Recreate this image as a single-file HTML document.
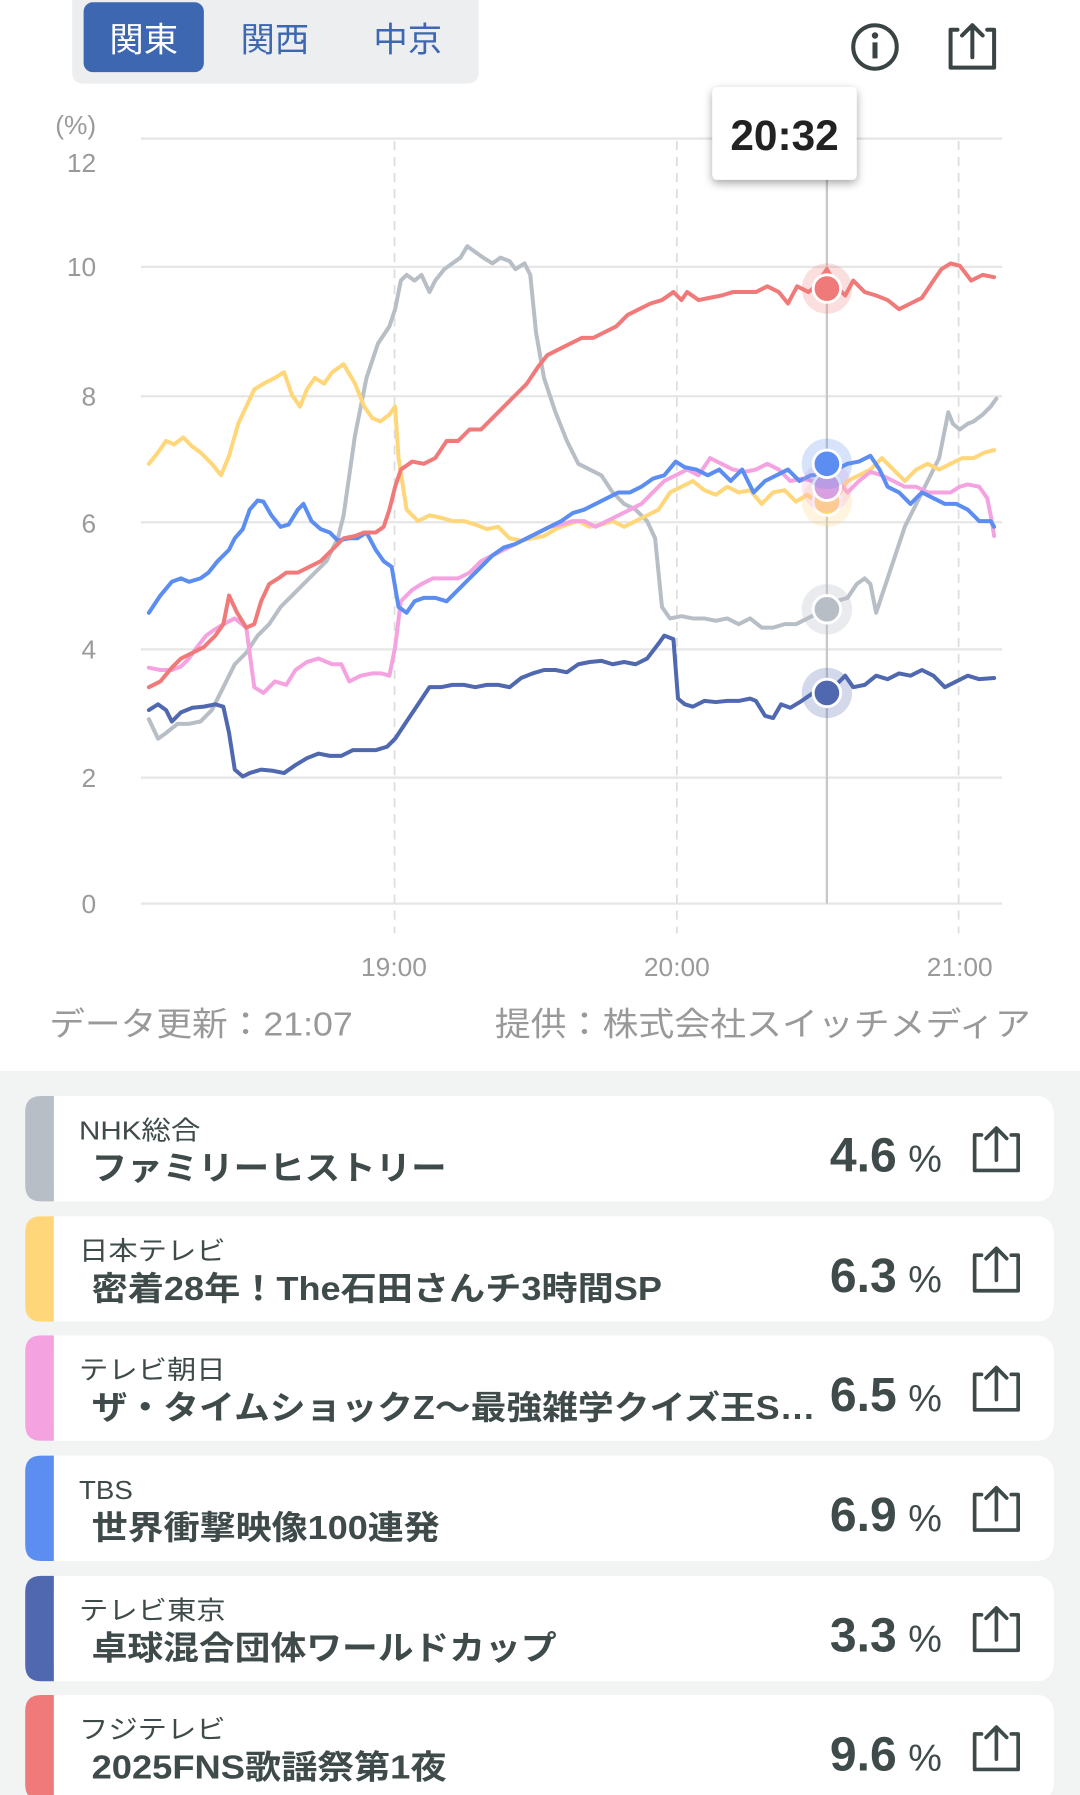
<!DOCTYPE html>
<html><head><meta charset="utf-8"><style>
html,body{margin:0;padding:0;background:#fff;width:1080px;height:1795px;overflow:hidden}
svg{display:block}
text{font-family:"Liberation Sans","Noto Sans CJK JP",sans-serif}
</style></head><body>
<svg width="1080" height="1795" viewBox="0 0 943 1567.3" xmlns="http://www.w3.org/2000/svg">
<defs><filter id="sh" x="-30%" y="-30%" width="160%" height="160%"><feDropShadow dx="0" dy="3" stdDeviation="4" flood-color="#000" flood-opacity="0.35"/></filter></defs>
<path d="M63 0H418V63Q418 73 408 73H73Q63 73 63 63Z" fill="#eceeef"/>
<rect x="73" y="2" width="105" height="61" rx="8" fill="#3d67b1"/>
<text x="125.5" y="45" font-size="30" fill="#fff" text-anchor="middle">関東</text>
<text x="240" y="45" font-size="30" fill="#3d67b1" text-anchor="middle">関西</text>
<text x="356" y="45" font-size="30" fill="#3d67b1" text-anchor="middle">中京</text>
<circle cx="764" cy="41" r="19" fill="none" stroke="#3a4444" stroke-width="3.5"/>
<circle cx="764" cy="31" r="2.8" fill="#3a4444"/>
<rect x="761.8" y="37" width="4.4" height="14" fill="#3a4444"/>
<path d="M836 26H830V59H868V26H862M849 50V22M840 31L849 22L858 31" fill="none" stroke="#3a4444" stroke-width="3.5" stroke-linejoin="round" stroke-linecap="round"/>
<g stroke="#e6e6e6" stroke-width="2">
<line x1="123" y1="121" x2="875" y2="121"/><line x1="123" y1="233" x2="875" y2="233"/><line x1="123" y1="346" x2="875" y2="346"/><line x1="123" y1="456" x2="875" y2="456"/><line x1="123" y1="567" x2="875" y2="567"/><line x1="123" y1="679" x2="875" y2="679"/><line x1="123" y1="789" x2="875" y2="789"/>
</g>
<g stroke="#dddddd" stroke-width="1.5" stroke-dasharray="8,6">
<line x1="344.5" y1="123" x2="344.5" y2="815"/><line x1="591" y1="123" x2="591" y2="815"/><line x1="837" y1="123" x2="837" y2="815"/>
</g>
<g font-size="23" fill="#9a9a9a" text-anchor="end">
<text x="84" y="117">(%)</text>
<text x="84" y="150">12</text><text x="84" y="241">10</text><text x="84" y="354">8</text><text x="84" y="465">6</text><text x="84" y="575">4</text><text x="84" y="687">2</text><text x="84" y="797">0</text>
</g>
<g font-size="23" fill="#9a9a9a" text-anchor="middle">
<text x="344" y="852">19:00</text><text x="591" y="852">20:00</text><text x="838" y="852">21:00</text>
</g>
<line x1="722" y1="157" x2="722" y2="789" stroke="#c8c8c8" stroke-width="2"/>
<g fill="none" stroke-width="3.5" stroke-linejoin="round" stroke-linecap="round">
<polyline stroke="#b8bec6" points="130,628 138,645 145,640 155,632 165,632 175,630 185,620 195,600 205,580 215,570 225,555 235,545 245,530 255,520 265,510 275,500 285,490 295,470 300,450 310,380 320,330 330,300 340,285 345,270 350,245 355,240 362,245 368,240 375,255 380,245 388,235 395,230 402,225 408,215 415,220 422,225 430,230 437,225 445,228 450,235 458,230 463,240 468,290 475,330 485,360 495,385 505,405 515,410 525,415 535,430 545,440 555,445 565,455 572,470 575,500 578,530 585,540 595,538 605,540 615,540 625,542 635,540 645,545 655,540 665,548 675,548 685,545 695,545 705,540 715,535 722,532 730,525 740,522 748,510 755,505 760,510 765,535 770,520 780,490 790,460 800,440 810,420 820,400 828,360 832,370 838,375 845,370 850,368 858,362 865,355 870,348"/>
<polyline stroke="#ffd77a" points="130,405 138,395 145,385 152,388 160,382 168,390 175,395 185,405 193,415 200,398 208,370 215,355 222,340 230,335 240,330 248,325 255,345 262,355 268,340 275,330 283,335 290,325 300,318 310,335 318,355 325,365 332,368 340,362 345,355 348,400 355,445 365,455 375,450 385,452 395,455 405,455 415,458 425,462 435,460 445,470 455,472 465,470 475,468 485,462 495,458 505,455 515,460 525,458 535,455 545,460 555,455 565,450 575,445 585,430 595,425 605,420 615,428 625,432 635,425 645,430 655,428 665,440 675,430 685,428 695,438 705,432 715,440 722,438 730,435 740,420 750,415 760,410 770,400 780,410 790,420 800,410 810,405 820,410 830,405 840,400 850,400 860,395 868,393"/>
<polyline stroke="#f5a3e0" points="130,583 140,585 150,585 158,582 165,575 172,565 180,555 187,550 195,545 205,540 215,548 222,600 230,605 240,595 250,598 258,585 268,578 278,575 290,580 298,580 305,595 315,590 325,588 333,588 340,590 345,565 350,525 360,515 368,510 378,505 390,505 400,505 410,500 420,490 430,485 440,480 450,475 460,470 470,465 480,460 490,458 500,455 510,455 520,460 530,455 540,450 550,445 560,440 570,430 580,420 590,415 600,410 610,415 620,400 630,405 640,410 650,412 660,410 670,405 680,410 690,420 700,418 710,420 722,425 730,418 740,430 750,420 760,412 770,415 780,420 790,425 800,425 810,430 820,430 830,430 838,425 845,423 855,425 862,435 866,455 868,468"/>
<polyline stroke="#5b8ef0" points="130,535 140,520 150,508 158,505 165,508 175,505 182,500 190,490 200,480 205,470 212,462 218,445 225,437 230,438 237,450 245,460 252,458 260,445 265,440 272,455 280,462 288,465 295,472 305,470 312,470 320,465 328,480 335,490 342,495 348,530 355,535 362,525 370,522 380,522 390,525 400,515 410,505 420,495 430,485 440,478 450,475 460,470 470,465 480,460 490,455 500,448 510,445 520,440 530,435 540,430 550,430 560,425 570,418 580,415 590,403 598,408 608,410 618,415 628,410 638,420 648,410 658,430 668,420 678,415 688,410 698,420 708,415 715,415 722,405 730,410 740,405 750,403 760,398 768,410 775,425 785,430 795,440 805,430 815,435 825,440 835,440 845,445 855,455 865,455 868,460"/>
<polyline stroke="#5068b0" points="130,620 138,615 145,620 150,630 158,622 168,618 178,617 188,615 195,617 200,640 205,672 212,678 218,675 228,672 238,673 248,675 258,668 268,662 278,658 288,660 298,660 308,655 318,655 328,655 338,652 345,645 355,630 365,615 375,600 385,600 395,598 405,598 415,600 425,598 435,598 445,600 455,592 465,588 475,585 485,585 495,587 505,580 515,578 525,577 535,580 545,578 555,580 565,575 575,562 580,555 588,558 592,610 598,615 605,617 615,612 625,613 635,612 645,612 655,610 660,612 668,625 675,627 682,615 690,618 700,612 710,605 722,605 730,598 738,590 745,600 755,598 765,590 775,593 785,588 795,590 805,585 815,590 825,600 835,595 845,590 855,593 868,592"/>
<polyline stroke="#f07a7a" points="130,600 140,595 150,583 158,575 168,570 178,565 188,555 195,545 200,520 207,535 215,548 222,545 228,525 235,510 243,505 250,500 260,500 270,495 280,490 290,480 300,470 310,468 318,465 328,465 335,460 340,445 345,425 350,410 360,403 370,405 380,400 390,385 400,385 410,375 420,375 430,365 440,355 450,345 460,335 470,320 478,310 488,305 498,300 508,295 518,295 528,290 538,285 548,275 558,270 568,265 578,262 588,255 595,262 600,255 610,262 620,260 630,258 640,255 650,255 660,255 670,250 680,255 688,265 696,250 706,255 712,250 722,235 730,250 738,258 745,245 755,255 765,258 775,262 785,270 795,265 805,260 815,245 822,235 830,230 838,232 848,245 858,240 868,242"/>
</g>
<g stroke="#fff" stroke-width="2.5">
<circle cx="722" cy="438" r="22" fill="#ffd77a" fill-opacity="0.25" stroke="none"/><circle cx="722" cy="438" r="12" fill="#ffd77a"/>
<circle cx="722" cy="425" r="22" fill="#f5a3e0" fill-opacity="0.25" stroke="none"/><circle cx="722" cy="425" r="12" fill="#d8a0e0"/>
<circle cx="722" cy="405" r="22" fill="#5b8ef0" fill-opacity="0.25" stroke="none"/><circle cx="722" cy="405" r="12" fill="#5b8ef0"/>
<circle cx="722" cy="252" r="22" fill="#f07a7a" fill-opacity="0.25" stroke="none"/><circle cx="722" cy="252" r="12" fill="#f07a7a"/>
<circle cx="722" cy="532" r="22" fill="#b8bec6" fill-opacity="0.3" stroke="none"/><circle cx="722" cy="532" r="12" fill="#b8bec6"/>
<circle cx="722" cy="605" r="22" fill="#5068b0" fill-opacity="0.25" stroke="none"/><circle cx="722" cy="605" r="12" fill="#5068b0"/>
</g>
<rect x="622" y="76" width="126" height="81" rx="4" fill="#fff" filter="url(#sh)"/>
<text x="685" y="131" font-size="37" font-weight="bold" fill="#222" text-anchor="middle">20:32</text>
<text x="43" y="904" font-size="29" fill="#999" textLength="265" lengthAdjust="spacingAndGlyphs">データ更新：21:07</text>
<text x="432" y="904" font-size="29" fill="#999" textLength="468" lengthAdjust="spacingAndGlyphs">提供：株式会社スイッチメディア</text>
<rect x="0" y="935" width="943" height="640" fill="#f2f3f3"/>
<g>
<g transform="translate(0,957)">
<rect x="22" y="0" width="898" height="92" rx="14" fill="#fff"/><path d="M47 0V92H36Q22 92 22 78V14Q22 0 36 0Z" fill="#b8bec6"/>
<text x="69" y="38" font-size="23" fill="#3f4a4a" textLength="106" lengthAdjust="spacingAndGlyphs">NHK総合</text><text x="80" y="73" font-size="29" font-weight="bold" fill="#3f4a4a" textLength="310" lengthAdjust="spacingAndGlyphs">ファミリーヒストリー</text>
<text x="783" y="66" font-size="42" font-weight="bold" fill="#3f4a4a" text-anchor="end">4.6</text><text x="793" y="66" font-size="33" fill="#3f4a4a">%</text>
</g>
<g transform="translate(0,1062)">
<rect x="22" y="0" width="898" height="92" rx="14" fill="#fff"/><path d="M47 0V92H36Q22 92 22 78V14Q22 0 36 0Z" fill="#ffd77a"/>
<text x="69" y="38" font-size="23" fill="#3f4a4a" textLength="128" lengthAdjust="spacingAndGlyphs">日本テレビ</text><text x="80" y="73" font-size="29" font-weight="bold" fill="#3f4a4a" textLength="498" lengthAdjust="spacingAndGlyphs">密着28年！The石田さんチ3時間SP</text>
<text x="783" y="66" font-size="42" font-weight="bold" fill="#3f4a4a" text-anchor="end">6.3</text><text x="793" y="66" font-size="33" fill="#3f4a4a">%</text>
</g>
<g transform="translate(0,1166)">
<rect x="22" y="0" width="898" height="92" rx="14" fill="#fff"/><path d="M47 0V92H36Q22 92 22 78V14Q22 0 36 0Z" fill="#f5a3e0"/>
<text x="69" y="38" font-size="23" fill="#3f4a4a" textLength="128" lengthAdjust="spacingAndGlyphs">テレビ朝日</text><text x="80" y="73" font-size="29" font-weight="bold" fill="#3f4a4a" textLength="632" lengthAdjust="spacingAndGlyphs">ザ・タイムショックZ～最強雑学クイズ王S…</text>
<text x="783" y="66" font-size="42" font-weight="bold" fill="#3f4a4a" text-anchor="end">6.5</text><text x="793" y="66" font-size="33" fill="#3f4a4a">%</text>
</g>
<g transform="translate(0,1271)">
<rect x="22" y="0" width="898" height="92" rx="14" fill="#fff"/><path d="M47 0V92H36Q22 92 22 78V14Q22 0 36 0Z" fill="#5b8ef0"/>
<text x="69" y="38" font-size="23" fill="#3f4a4a" textLength="47" lengthAdjust="spacingAndGlyphs">TBS</text><text x="80" y="73" font-size="29" font-weight="bold" fill="#3f4a4a" textLength="304" lengthAdjust="spacingAndGlyphs">世界衝撃映像100連発</text>
<text x="783" y="66" font-size="42" font-weight="bold" fill="#3f4a4a" text-anchor="end">6.9</text><text x="793" y="66" font-size="33" fill="#3f4a4a">%</text>
</g>
<g transform="translate(0,1376)">
<rect x="22" y="0" width="898" height="92" rx="14" fill="#fff"/><path d="M47 0V92H36Q22 92 22 78V14Q22 0 36 0Z" fill="#5068b0"/>
<text x="69" y="38" font-size="23" fill="#3f4a4a" textLength="128" lengthAdjust="spacingAndGlyphs">テレビ東京</text><text x="80" y="73" font-size="29" font-weight="bold" fill="#3f4a4a" textLength="406" lengthAdjust="spacingAndGlyphs">卓球混合団体ワールドカップ</text>
<text x="783" y="66" font-size="42" font-weight="bold" fill="#3f4a4a" text-anchor="end">3.3</text><text x="793" y="66" font-size="33" fill="#3f4a4a">%</text>
</g>
<g transform="translate(0,1480)">
<rect x="22" y="0" width="898" height="92" rx="14" fill="#fff"/><path d="M47 0V92H36Q22 92 22 78V14Q22 0 36 0Z" fill="#f07a7a"/>
<text x="69" y="38" font-size="23" fill="#3f4a4a" textLength="128" lengthAdjust="spacingAndGlyphs">フジテレビ</text><text x="80" y="73" font-size="29" font-weight="bold" fill="#3f4a4a" textLength="310" lengthAdjust="spacingAndGlyphs">2025FNS歌謡祭第1夜</text>
<text x="783" y="66" font-size="42" font-weight="bold" fill="#3f4a4a" text-anchor="end">9.6</text><text x="793" y="66" font-size="33" fill="#3f4a4a">%</text>
</g>
</g>
<g fill="none" stroke="#3f4a4a" stroke-width="3.2" stroke-linejoin="round" stroke-linecap="round">
<path d="M857 991H851V1022H889V991H883M870 1013V985M861 994L870 985L879 994"/>
<path d="M857 1096H851V1127H889V1096H883M870 1118V1090M861 1099L870 1090L879 1099"/>
<path d="M857 1200H851V1231H889V1200H883M870 1222V1194M861 1203L870 1194L879 1203"/>
<path d="M857 1305H851V1336H889V1305H883M870 1327V1299M861 1308L870 1299L879 1308"/>
<path d="M857 1410H851V1441H889V1410H883M870 1432V1404M861 1413L870 1404L879 1413"/>
<path d="M857 1514H851V1545H889V1514H883M870 1536V1508M861 1517L870 1508L879 1517"/>
</g>
</svg>
</body></html>
